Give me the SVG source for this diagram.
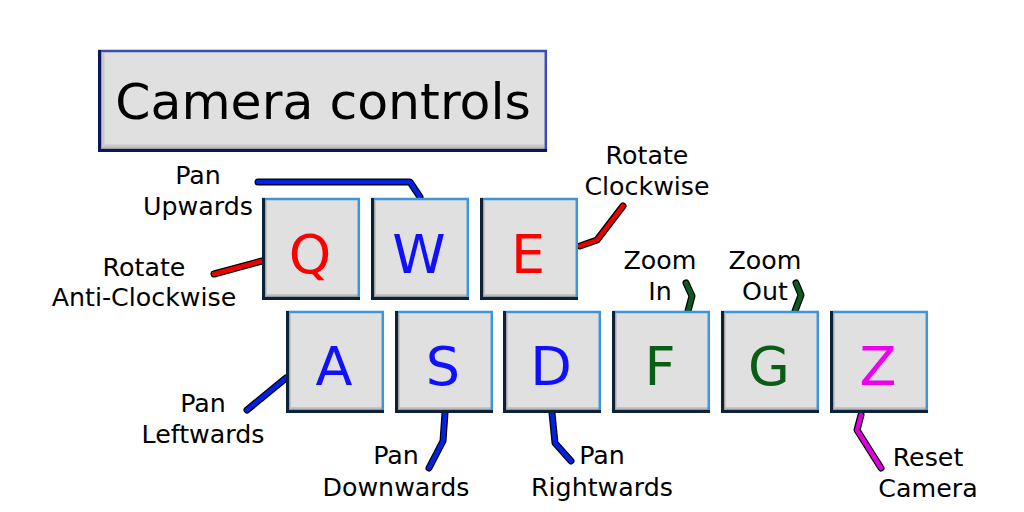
<svg xmlns="http://www.w3.org/2000/svg" xmlns:xlink="http://www.w3.org/1999/xlink" width="1024" height="512" viewBox="0 0 1024 512">
<style>
.lbl{font-family:"DejaVu Sans",sans-serif;font-size:25.3px;fill:#000;text-anchor:middle}
.key{font-family:"DejaVu Sans",sans-serif;font-size:54px;text-anchor:middle}
.title{font-family:"DejaVu Sans",sans-serif;font-size:50.5px;fill:#000;text-anchor:middle}
.red{fill:#ff0000}.blue{fill:#1010ff}.green{fill:#0b5c14}.mag{fill:#ee00ee}
.co{fill:none;stroke:#000;stroke-width:7;stroke-linecap:round;stroke-linejoin:round}
.ci{fill:none;stroke-width:4.5;stroke-linecap:round;stroke-linejoin:round}
.cb{stroke:#0022e6}.cr{stroke:#ee0000}.cg{stroke:#0b5c1e}.cm{stroke:#dd00dd}
</style>
<defs>
<g id="keybg">
<rect x="0" y="0" width="98" height="102" fill="#e0e0e0"/>
<path d="M4,3 V97 H96" fill="none" stroke="#c4c4c4" stroke-width="2"/>
<path d="M3,2 V98.5 H97" fill="none" stroke="#9a9a9a" stroke-width="1.5"/>
<line x1="0" y1="1" x2="98" y2="1" stroke="#3d95da" stroke-width="2.5"/>
<line x1="96.8" y1="0" x2="96.8" y2="102" stroke="#3d95da" stroke-width="2.5"/>
<line x1="1.5" y1="0" x2="1.5" y2="102" stroke="#0c2238" stroke-width="3"/>
<line x1="0" y1="100.5" x2="98" y2="100.5" stroke="#0c2238" stroke-width="3"/>
</g>
</defs>

<g id="title">
<rect x="98" y="50" width="449" height="102" fill="#e0e0e0"/>
<path d="M103,53 V146 H544" fill="none" stroke="#c8c8c8" stroke-width="3"/>
<path d="M101,52 V148.5 H545" fill="none" stroke="#a0a0a0" stroke-width="2"/>
<line x1="98" y1="51" x2="547" y2="51" stroke="#3a4db5" stroke-width="2.5"/>
<line x1="545.8" y1="50" x2="545.8" y2="152" stroke="#3a4db5" stroke-width="2.5"/>
<line x1="99.5" y1="50" x2="99.5" y2="152" stroke="#0a1660" stroke-width="3"/>
<line x1="98" y1="150.5" x2="547" y2="150.5" stroke="#0a1660" stroke-width="3"/>
<text class="title" x="323" y="119">Camera controls</text>
</g>

<g id="connectors">
<polyline class="co" points="258,182 410,182 420,197"/><polyline class="ci cb" points="258,182 410,182 420,197"/>
<polyline class="co" points="214,274 262,261"/><polyline class="ci cr" points="214,274 262,261"/>
<polyline class="co" points="580,246 597,240 623,206"/><polyline class="ci cr" points="580,246 597,240 623,206"/>
<polyline class="co" points="686,283 692,296 688,311"/><polyline class="ci cg" points="686,283 692,296 688,311"/>
<polyline class="co" points="796,283 801,295 795,311"/><polyline class="ci cg" points="796,283 801,295 795,311"/>
<polyline class="co" points="247,410 286,378"/><polyline class="ci cb" points="247,410 286,378"/>
<polyline class="co" points="445,413 443,441 429,468"/><polyline class="ci cb" points="445,413 443,441 429,468"/>
<polyline class="co" points="552,413 555,443 571,461"/><polyline class="ci cb" points="552,413 555,443 571,461"/>
<polyline class="co" points="861,415 857,430 881,468"/><polyline class="ci cm" points="861,415 857,430 881,468"/>
</g>

<g id="key-q" transform="translate(262,198)"><use xlink:href="#keybg"/><text class="key red" x="48" y="75">Q</text></g>
<g id="key-w" transform="translate(371,198)"><use xlink:href="#keybg"/><text class="key blue" x="48" y="75">W</text></g>
<g id="key-e" transform="translate(480,198)"><use xlink:href="#keybg"/><text class="key red" x="48" y="75">E</text></g>
<g id="key-a" transform="translate(286,311)"><use xlink:href="#keybg"/><text class="key blue" x="48" y="74">A</text></g>
<g id="key-s" transform="translate(395,311)"><use xlink:href="#keybg"/><text class="key blue" x="48" y="74">S</text></g>
<g id="key-d" transform="translate(503,311)"><use xlink:href="#keybg"/><text class="key blue" x="48" y="74">D</text></g>
<g id="key-f" transform="translate(612,311)"><use xlink:href="#keybg"/><text class="key green" x="48" y="74">F</text></g>
<g id="key-g" transform="translate(721,311)"><use xlink:href="#keybg"/><text class="key green" x="48" y="74">G</text></g>
<g id="key-z" transform="translate(830,311)"><use xlink:href="#keybg"/><text class="key mag" x="48" y="74">Z</text></g>

<g id="labels">
<text class="lbl" x="198" y="184">Pan</text><text class="lbl" x="198" y="215">Upwards</text>
<text class="lbl" x="144" y="276">Rotate</text><text class="lbl" x="144" y="306">Anti-Clockwise</text>
<text class="lbl" x="647" y="164">Rotate</text><text class="lbl" x="647" y="195">Clockwise</text>
<text class="lbl" x="660" y="269">Zoom</text><text class="lbl" x="660" y="300">In</text>
<text class="lbl" x="765" y="269">Zoom</text><text class="lbl" x="765" y="300">Out</text>
<text class="lbl" x="203" y="412">Pan</text><text class="lbl" x="203" y="443">Leftwards</text>
<text class="lbl" x="396" y="464">Pan</text><text class="lbl" x="396" y="496">Downwards</text>
<text class="lbl" x="602" y="464">Pan</text><text class="lbl" x="602" y="496">Rightwards</text>
<text class="lbl" x="928" y="466">Reset</text><text class="lbl" x="928" y="497">Camera</text>
</g>
</svg>
